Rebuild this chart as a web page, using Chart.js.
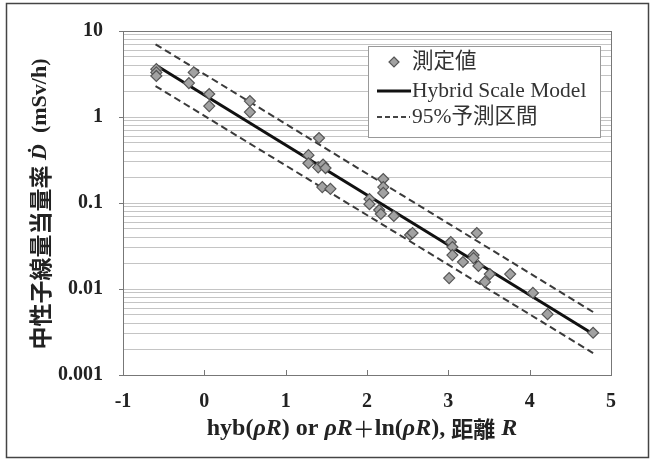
<!DOCTYPE html>
<html><head><meta charset="utf-8">
<script src="https://cdn.jsdelivr.net/npm/chart.js@4/dist/chart.umd.min.js"></script>
<style>html,body{margin:0;background:#fff}</style>
</head><body>
<canvas id="c" width="654" height="461"></canvas>
<script>
'use strict';

// measured points: x = hyb(ρR) or ρR+ln(ρR), y = dose rate (mSv/h)
const ptX=[-0.59,-0.59,-0.59,-0.13,-0.19,0.06,0.06,0.56,0.56,1.41,1.28,1.28,1.40,1.46,1.49,1.45,1.55,
  2.20,2.20,2.20,2.03,2.03,2.15,2.17,2.33,2.53,2.56,3.35,3.03,3.05,3.05,3.18,3.31,3.31,3.37,3.51,3.01,3.45,3.76,4.04,4.22,4.78];
const ptY=[3.6,3.3,3.0,3.3,2.48,1.85,1.34,1.53,1.14,0.57,0.36,0.29,0.26,0.28,0.255,0.153,0.146,
  0.19,0.153,0.131,0.111,0.097,0.083,0.0745,0.0706,0.0425,0.0448,0.0448,0.0352,0.0308,0.0248,0.0206,0.0248,0.0229,0.0185,0.0149,0.0134,0.0121,0.0149,0.0090,0.0051,0.0031];
// model line and 95% prediction band (end points)
const fitX=[-0.6,4.78];
const fitY=[4.03,0.0030];
const upY=[7.0,0.0054];
const loY=[2.29,0.0018];
const xMin=-1,xMax=5;
const yMin=0.001,yMax=10;
const legendLabels=['測定値','Hybrid Scale Model','95%予測区間'];

const SERIF="'Liberation Serif','Noto Sans CJK JP'";
const xy=(xs,ys)=>xs.map((x,i)=>({x,y:ys[i]}));
const isDecade=v=>Math.abs(Math.log10(v)-Math.round(Math.log10(v)))<1e-9;

function runs(ctx,parts,cx,cy){
  let w=0; parts.forEach(p=>{ctx.font=p[1]; w+=ctx.measureText(p[0]).width;});
  let x=cx-w/2; ctx.textAlign='left'; ctx.textBaseline='middle';
  parts.forEach(p=>{ctx.font=p[1]; ctx.fillText(p[0],x,cy); x+=ctx.measureText(p[0]).width;});
}
function diamond(ctx,x,y,r){
  ctx.beginPath(); ctx.moveTo(x,y-r); ctx.lineTo(x+r,y); ctx.lineTo(x,y+r); ctx.lineTo(x-r,y); ctx.closePath();
  ctx.fillStyle='#a2a2a2'; ctx.fill(); ctx.strokeStyle='#555'; ctx.lineWidth=1.2; ctx.stroke();
}

const deco={
  id:'deco',
  beforeDraw(c){
    const ctx=c.ctx; ctx.save();
    ctx.fillStyle='#fff'; ctx.fillRect(0,0,c.width,c.height);
    ctx.strokeStyle='#444'; ctx.lineWidth=1.5; ctx.strokeRect(6.5,3.5,642,454);
    ctx.restore();
  },
  beforeDatasetsDraw(c){
    const ctx=c.ctx,a=c.chartArea,sx=c.scales.x; ctx.save();
    ctx.strokeStyle='#777'; ctx.lineWidth=1;
    sx.ticks.forEach(t=>{ const px=Math.round(sx.getPixelForValue(t.value))+0.5;
      ctx.beginPath(); ctx.moveTo(px,a.bottom); ctx.lineTo(px,a.bottom-5); ctx.stroke(); });
    ctx.strokeRect(a.left+0.5,a.top+0.5,a.right-a.left,a.bottom-a.top);
    ctx.restore();
  },
  afterDraw(c){
    const ctx=c.ctx,a=c.chartArea; ctx.save();
    ctx.fillStyle='#222';
    // x title
    const B="bold 24px "+SERIF, BI="italic bold 24px 'Liberation Serif'", J="bold 22px 'Noto Sans CJK JP'", P="22px 'Noto Sans CJK JP'";
    runs(ctx,[['hyb(',B],['ρR',BI],[') or ',B],['ρR',BI],['＋',P],['ln(',B],['ρR',BI],['), ',B],['距離',J],[' ',B],['R',BI]],(a.left+a.right)/2-5,429);
    // y title
    const YB="bold 22px "+SERIF;
    ctx.translate(40,204); ctx.rotate(-Math.PI/2);
    runs(ctx,[['中性子線量当量率',"bold 23px 'Noto Sans CJK JP'"],[' ',YB],['Ḋ',"italic bold 22px 'Liberation Serif'"],['  (mSv/h)',YB]],0,0);
    ctx.setTransform(1,0,0,1,0,0);
    // legend
    ctx.fillStyle='#fff'; ctx.fillRect(368,46,232,91);
    ctx.strokeStyle='#999'; ctx.lineWidth=1; ctx.strokeRect(368.5,46.5,232,91);
    const L="21.5px "+SERIF, ty=[62,91,117];
    diamond(ctx,394,ty[0],5);
    ctx.strokeStyle='#111'; ctx.lineWidth=3; ctx.beginPath(); ctx.moveTo(377,ty[1]); ctx.lineTo(411,ty[1]); ctx.stroke();
    ctx.strokeStyle='#444'; ctx.lineWidth=2; ctx.setLineDash([5,3]); ctx.beginPath(); ctx.moveTo(377,ty[2]); ctx.lineTo(410,ty[2]); ctx.stroke(); ctx.setLineDash([]);
    ctx.fillStyle='#333'; ctx.font=L; ctx.textAlign='left'; ctx.textBaseline='middle';
    legendLabels.forEach((s,i)=>ctx.fillText(s,412,ty[i]));
    ctx.restore();
  }
};

new Chart(document.getElementById('c'),{
  type:'scatter',
  data:{datasets:[
    {label:legendLabels[0],data:xy(ptX,ptY),pointStyle:'rectRot',pointRadius:5.5,backgroundColor:'#a2a2a2',borderColor:'#555',borderWidth:1.2},
    {label:legendLabels[1],data:xy(fitX,fitY),showLine:true,pointRadius:0,borderColor:'#111',borderWidth:3},
    {label:legendLabels[2],data:xy(fitX,upY),showLine:true,pointRadius:0,borderColor:'#3a3a3a',borderWidth:2,borderDash:[7,4]},
    {label:legendLabels[2],data:xy(fitX,loY),showLine:true,pointRadius:0,borderColor:'#3a3a3a',borderWidth:2,borderDash:[7,4]}
  ]},
  options:{
    responsive:false,animation:false,events:[],
    layout:{padding:{top:31,right:43,left:0,bottom:0}},
    plugins:{legend:{display:false},tooltip:{enabled:false}},
    scales:{
      x:{type:'linear',min:xMin,max:xMax,
        ticks:{stepSize:1,padding:15,color:'#222',font:{family:SERIF,size:20,weight:'bold'}},
        grid:{display:false,drawTicks:false},border:{display:false},
        afterFit:s=>{s.height=86;}},
      y:{type:'logarithmic',min:yMin,max:yMax,
        afterBuildTicks:s=>{ const t=[]; for(let e=-3;e<1;e++) for(let m=1;m<10;m++) t.push({value:+(m*Math.pow(10,e)).toPrecision(3)}); t.push({value:yMax}); s.ticks=t; },
        ticks:{autoSkip:false,padding:16,color:'#222',font:{family:SERIF,size:20,weight:'bold'},callback:v=>isDecade(v)?String(v):''},
        grid:{color:'#c4c4c4',lineWidth:1,tickLength:4,tickColor:ctx=>isDecade(ctx.tick.value)?'#777':'rgba(0,0,0,0)'},
        border:{display:false},
        afterFit:s=>{s.width=123;}}
    }
  },
  plugins:[deco]
});
</script>
</body></html>
